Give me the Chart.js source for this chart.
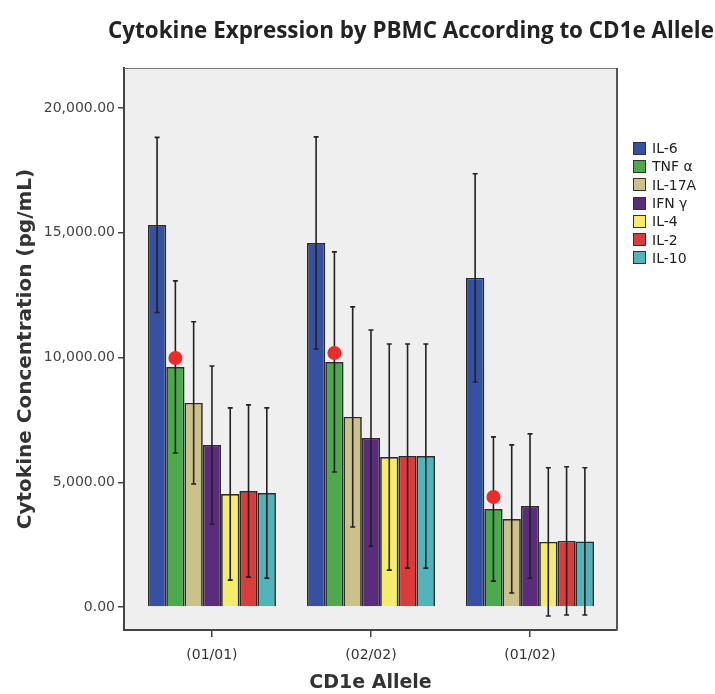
<!DOCTYPE html>
<html>
<head>
<meta charset="utf-8">
<script src="https://cdn.jsdelivr.net/npm/chart.js@4"></script>
<style>
  body { margin: 0; background: #fff; }
  #wrap { position: relative; width: 715px; height: 694px; }
  #title {
    position: absolute; left: 411px; top: 14px; transform: translateX(-50%);
    white-space: nowrap; font: bold 22.4px "Open Sans", sans-serif; color: #222;
  }
  #legend {
    position: absolute; left: 633px; top: 139px;
    font: 14px "DejaVu Sans", sans-serif; color: #222;
  }
  #legend div { height: 18.3px; display: flex; align-items: center; }
  #legend span.sw {
    width: 11px; height: 11px; border: 1px solid #333; margin-right: 6px; display: inline-block;
  }
</style>
</head>
<body>
<div id="wrap">
  <canvas id="chart"></canvas>
  <div id="title">Cytokine Expression by PBMC According to CD1e Allele</div>
  <div id="legend"></div>
</div>
<script>
// Categories and series
const alleles = ['(01/01)', '(02/02)', '(01/02)'];
const cytokines = ['IL-6', 'TNF α', 'IL-17A', 'IFN γ', 'IL-4', 'IL-2', 'IL-10'];
const colors = ['#3651a2', '#4ea94e', '#cbc28b', '#5a2d7c', '#f4ec6b', '#dc3b3b', '#52b4ba'];

const il6 = [15310, 14590, 13190];
const tnfa = [9620, 9820, 3930];
const il17a = [8180, 7620, 3530];
const ifng = [6490, 6770, 4050];
const il4 = [4530, 6010, 2610];
const il2 = [4650, 6050, 2650];
const il10 = [4570, 6050, 2630];

const il6Err = [3510, 4250, 4170];
const tnfaErr = [3450, 4410, 2890];
const il17aErr = [3250, 4410, 2970];
const ifngErr = [3170, 4330, 2890];
const il4Err = [3450, 4530, 2970];
const il2Err = [3450, 4490, 2970];
const il10Err = [3410, 4490, 2950];

// red markers on the TNF α bars
const tnfaDots = [9980, 10180, 4410];

const yTicks = [0, 5000, 10000, 15000, 20000];

const series = [il6, tnfa, il17a, ifng, il4, il2, il10];
const errors = [il6Err, tnfaErr, il17aErr, ifngErr, il4Err, il2Err, il10Err];

// HTML legend
const legendEl = document.getElementById('legend');
cytokines.forEach(function(name, i) {
    const row = document.createElement('div');
    row.innerHTML = '<span class="sw" style="background:' + colors[i] + '"></span>' + name;
    legendEl.appendChild(row);
});

// plot background + top/right frame
const framePlugin = {
    id: 'frame',
    beforeDraw: function(chart) {
        const a = chart.chartArea, ctx = chart.ctx;
        ctx.save();
        ctx.fillStyle = '#efefef';
        ctx.fillRect(a.left, a.top, a.right - a.left, a.bottom - a.top);
        ctx.restore();
    },
    afterDraw: function(chart) {
        const a = chart.chartArea, ctx = chart.ctx;
        ctx.save();
        ctx.strokeStyle = '#777';
        ctx.lineWidth = 1;
        ctx.beginPath();
        ctx.moveTo(a.left, a.top + 0.5);
        ctx.lineTo(a.right, a.top + 0.5);
        ctx.stroke();
        ctx.strokeStyle = '#555';
        ctx.lineWidth = 2;
        ctx.beginPath();
        ctx.moveTo(a.right, a.top);
        ctx.lineTo(a.right, a.bottom);
        ctx.stroke();
        ctx.restore();
    }
};

// error bars and TNF α markers, placed on the bar elements
const errorPlugin = {
    id: 'errorBars',
    afterDatasetsDraw: function(chart) {
        const ctx = chart.ctx, y = chart.scales.y;
        ctx.save();
        ctx.strokeStyle = '#222';
        ctx.lineWidth = 1.6;
        errors.forEach(function(errs, d) {
            const meta = chart.getDatasetMeta(d);
            meta.data.forEach(function(bar, i) {
                const v = series[d][i];
                const top = y.getPixelForValue(v + errs[i]);
                const bot = y.getPixelForValue(v - errs[i]);
                ctx.beginPath();
                ctx.moveTo(bar.x, top);
                ctx.lineTo(bar.x, bot);
                ctx.moveTo(bar.x - 2.5, top);
                ctx.lineTo(bar.x + 2.5, top);
                ctx.moveTo(bar.x - 2.5, bot);
                ctx.lineTo(bar.x + 2.5, bot);
                ctx.stroke();
            });
        });
        const tnfMeta = chart.getDatasetMeta(1);
        ctx.fillStyle = '#ee2a2a';
        tnfMeta.data.forEach(function(bar, i) {
            ctx.beginPath();
            ctx.arc(bar.x, y.getPixelForValue(tnfaDots[i]), 7, 0, Math.PI * 2);
            ctx.fill();
        });
        ctx.restore();
    }
};

const ctx = document.getElementById('chart').getContext('2d');
new Chart(ctx, {
    type: 'bar',
    data: {
        datasets: cytokines.map(function(name, d) {
            return {
                label: name,
                data: series[d].map(function(v, i) { return { x: i, y: v }; }),
                backgroundColor: colors[d],
                borderColor: '#2b2b2b',
                borderWidth: 1.7,
                categoryPercentage: 0.805,
                barPercentage: 1
            };
        })
    },
    options: {
        responsive: true,
        maintainAspectRatio: false,
        animation: false,
        layout: { padding: { top: 68, right: 98, left: 0, bottom: 0 } },
        plugins: {
            legend: { display: false },
            tooltip: { enabled: false }
        },
        scales: {
            x: {
                type: 'linear',
                offset: false,
                min: -0.553,
                max: 2.547,
                afterBuildTicks: function(scale) {
                    scale.ticks = alleles.map(function(a, i) { return { value: i }; });
                },
                afterFit: function(scale) { scale.height = 64; },
                ticks: {
                    callback: function(v) { return alleles[v]; },
                    font: { family: 'DejaVu Sans', size: 14 },
                    color: '#333',
                    padding: 10
                },
                grid: { offset: false, drawOnChartArea: false, drawTicks: true, tickLength: 7, color: '#444', lineWidth: 1.5 },
                border: { display: true, color: '#444', width: 2 },
                title: {
                    display: true,
                    text: 'CD1e Allele',
                    font: { family: 'DejaVu Sans', size: 19, weight: 'bold' },
                    color: '#333',
                    padding: { top: 0, bottom: 0 }
                }
            },
            y: {
                min: -920,
                max: 21600,
                afterBuildTicks: function(scale) {
                    scale.ticks = yTicks.map(function(v) { return { value: v }; });
                },
                afterFit: function(scale) { scale.width = 124; },
                ticks: {
                    callback: function(v) {
                        return v.toLocaleString('en-US', { minimumFractionDigits: 2, maximumFractionDigits: 2 });
                    },
                    font: { family: 'DejaVu Sans', size: 14 },
                    color: '#444',
                    padding: 3
                },
                grid: { drawOnChartArea: false, drawTicks: true, tickLength: 6, color: '#444', lineWidth: 1.5 },
                border: { display: true, color: '#444', width: 2 },
                title: {
                    display: true,
                    text: 'Cytokine Concentration (pg/mL)',
                    font: { family: 'DejaVu Sans', size: 20, weight: 'bold' },
                    color: '#333',
                    padding: { top: 14, bottom: 0 }
                }
            }
        }
    },
    plugins: [framePlugin, errorPlugin]
});
</script>
</body>
</html>
